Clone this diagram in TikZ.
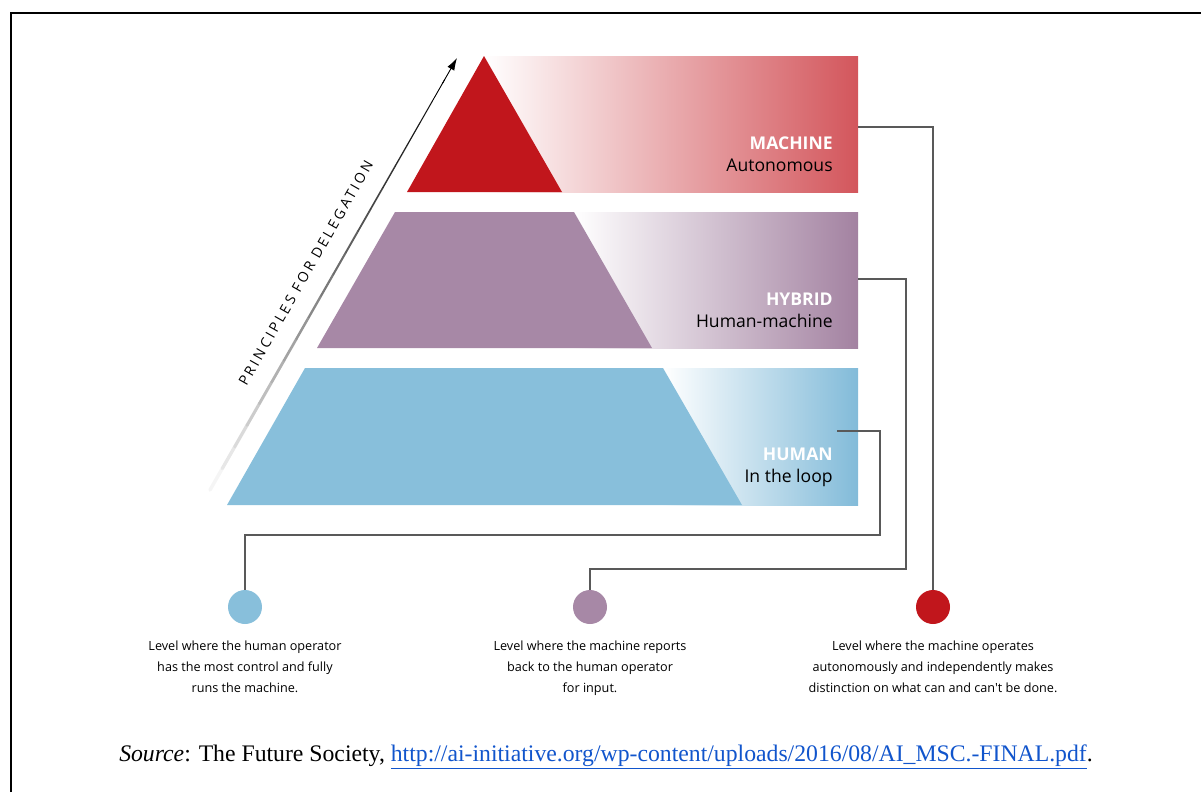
\documentclass[tikz,border=0pt]{standalone}
\usepackage{fontspec}
\setmainfont{Liberation Serif}
\newfontfamily\osans{Open Sans}
\newfontfamily\osanswide[LetterSpace=20]{Open Sans}
\usepackage{tikz}
\usetikzlibrary{positioning,arrows,arrows.meta,calc}

\definecolor{machred}{RGB}{193,22,28}
\definecolor{machend}{RGB}{211,86,92}
\definecolor{hybpurple}{RGB}{167,136,166}
\definecolor{hybend}{RGB}{163,130,161}
\definecolor{humblue}{RGB}{136,191,219}
\definecolor{humend}{RGB}{130,187,217}
\definecolor{linkblue}{RGB}{17,85,204}

\begin{document}
\begin{tikzpicture}[
	x=0.02cm, y=-0.02cm,
	ar/.style={->,>={Latex[length=7pt,width=4.5pt]}},
	link/.style={draw=black!65, line width=0.6pt},
	level/.style={
	  font=\osans\fontsize{10}{12.5}\selectfont,
	  align=right,
	  anchor=east,
	  inner sep=0pt
	  },
	dot/.style={
	  circle,
	  minimum size=0.68cm,
	  inner sep=0pt
	  },
	caption/.style={
	  font=\osans\fontsize{7.2}{12}\selectfont,
	  align=center,
	  inner sep=0pt
	  }
	]
		\useasboundingbox (0,0) rectangle (1201,792);
		\draw[line width=1.7pt] (11,792) -- (11,13) -- (1201,13);

		% bands
		\shade[left color=white, right color=machend] (484,56) rectangle (858,192);
		\fill[machred] (484,56) -- (562,192) -- (407,192) -- cycle;
		\shade[left color=white, right color=hybend] (574,212) rectangle (858,348);
		\fill[hybpurple] (395,212) -- (574,212) -- (652,348) -- (317,348) -- cycle;
		\shade[left color=white, right color=humend] (663,368) rectangle (858,505);
		\fill[humblue] (305,368) -- (663,368) -- (742,505) -- (227,505) -- cycle;

		\node[level] (machine) at (833,154) {\textcolor{white}{\textbf{MACHINE}}\\Autonomous};
		\node[level] (hybrid) at (833,310) {\textcolor{white}{\textbf{HYBRID}}\\Human-machine};
		\node[level] (human) at (833,467) {\textcolor{white}{\textbf{HUMAN}}\\In the loop};

		% delegation arrow
		\coordinate (arS) at (210,490);
		\coordinate (arE) at (457,58);
		\foreach \i in {0,...,18}{
			\pgfmathsetmacro\shadeval{4+96*\i/18}
			\pgfmathsetmacro\wid{2-1.5*\i/18}
			\draw[black!\shadeval, line width=\wid pt, line cap=round]
				($(arS)!\i/20!(arE)$) -- ($(arS)!\i/20+0.05!(arE)$);
		}
		\draw[ar, line width=0.5pt] ($(arS)!0.94!(arE)$) -- (arE);
		\path (arS) -- node[pos=0.474, sloped, above=7.5pt,
			font=\osanswide\fontsize{8}{9}\selectfont] (deleg)
			{PRINCIPLES FOR DELEGATION} (arE);

		% levels
		\node[dot, fill=humblue] (cHum) at (245,607) {};
		\node[dot, fill=hybpurple] (cHyb) at (590,607) {};
		\node[dot, fill=machred] (cMach) at (933,607) {};

		\node[caption, below=0.32cm of cHum] (tHum)
			{Level where the human operator\\has the most control and fully\\runs the machine.};
		\node[caption, below=0.32cm of cHyb] (tHyb)
			{Level where the machine reports\\back to the human operator\\for input.};
		\node[caption, below=0.32cm of cMach] (tMach)
			{Level where the machine operates\\autonomously and independently makes\\distinction on what can and can't be done.};

		\coordinate (machR) at (858,127);
		\coordinate (hybR) at (858,279);
		\coordinate (hybTurn) at (906,569);
		\coordinate (humR) at (837,431);
		\coordinate (humTurn) at (880,535);

		\draw[link]
			(machR) -| (cMach);
		\draw[link]
			(hybR) -| (hybTurn) -| (cHyb);
		\draw[link]
			(humR) -| (humTurn) -| (cHum);

		\node[font=\fontsize{13.5}{16}\selectfont, anchor=base] (source) at (606,761)
			{\textit{Source}: The Future Society, \textcolor{linkblue}{\underline{http://ai-initiative.org/wp-content/uploads/2016/08/AI\_MSC.-FINAL.pdf}}.};
	\end{tikzpicture}
\end{document}
